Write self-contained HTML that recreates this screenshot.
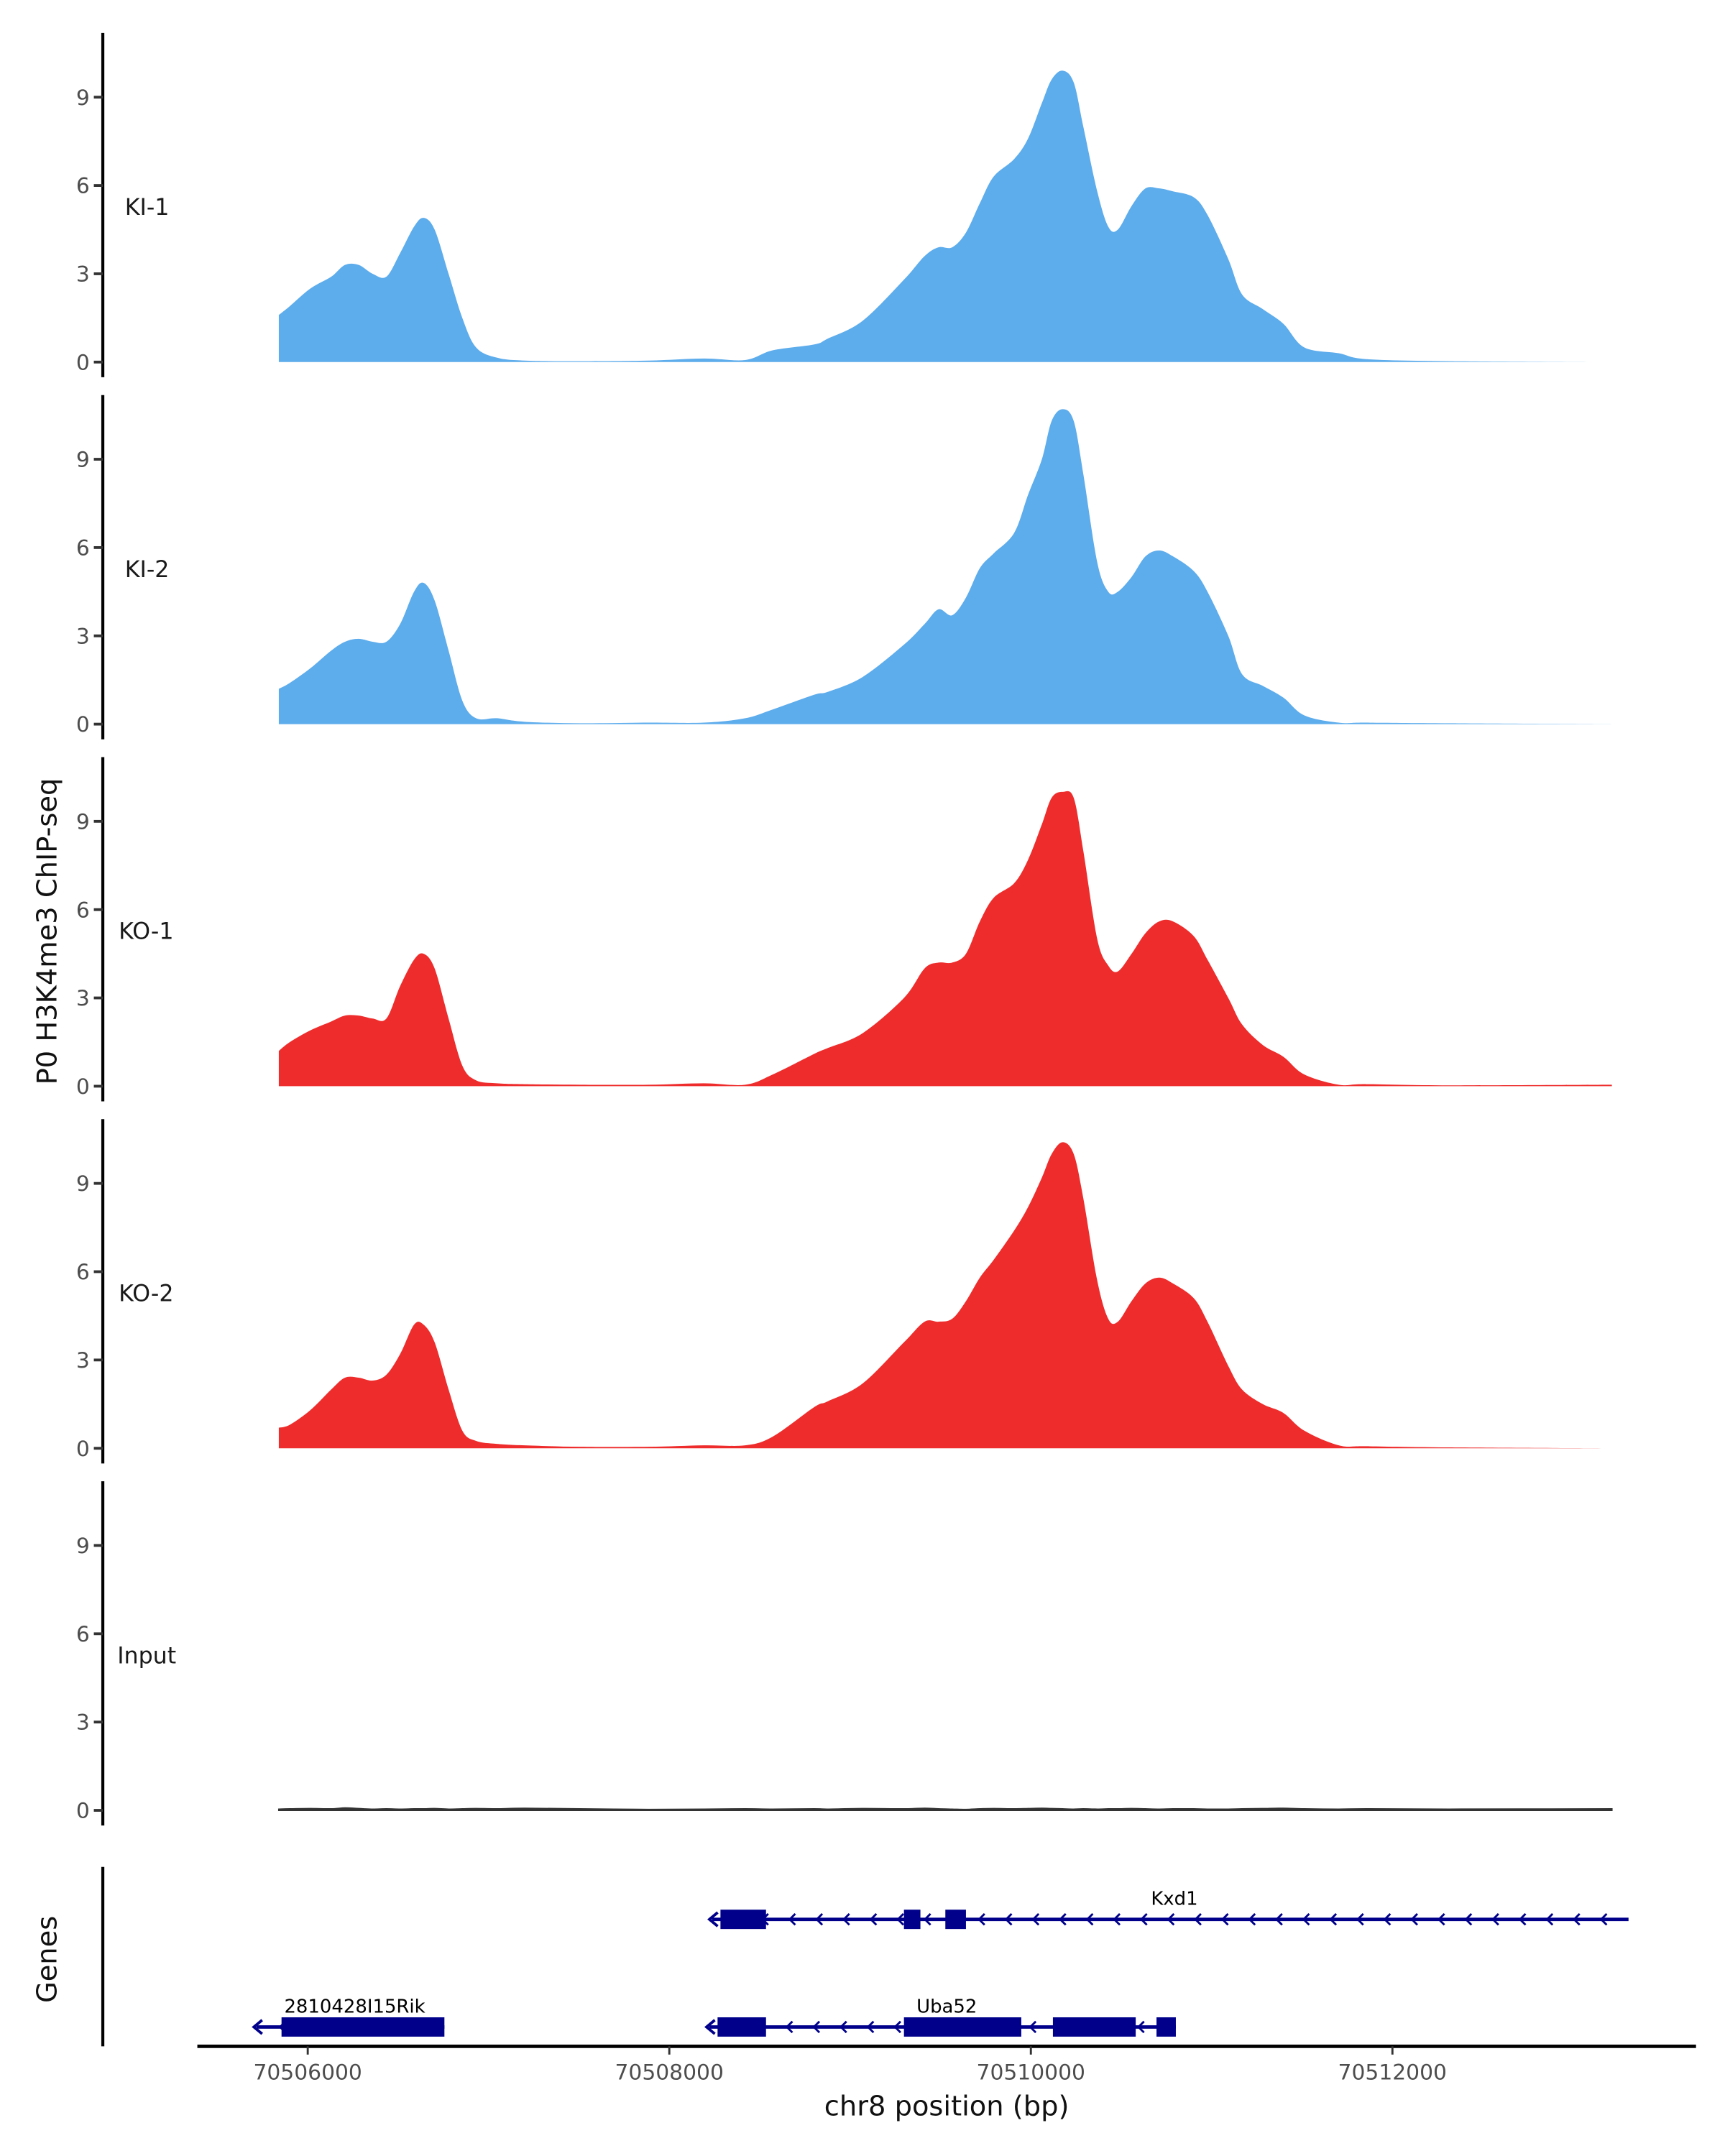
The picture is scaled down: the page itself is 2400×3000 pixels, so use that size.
<!DOCTYPE html>
<html><head><meta charset="utf-8">
<style>
html,body{margin:0;padding:0;background:#fff;}
svg{display:block;font-family:"DejaVu Sans","Liberation Sans",sans-serif;}
</style></head>
<body>
<svg id="chart" width="2400" height="3000" viewBox="0 0 1250 1562.5" xmlns="http://www.w3.org/2000/svg">
<rect width="1250" height="1562.5" fill="#fff"/>
<g id="panels"></g>
<g id="genes"></g>
<g id="xaxis"></g>
<text x="0" y="0" transform="translate(41,675) rotate(-90)" text-anchor="middle" font-size="20" fill="#111">P0 H3K4me3 ChIP-seq</text>
<text x="0" y="0" transform="translate(41,1420) rotate(-90)" text-anchor="middle" font-size="20" fill="#111">Genes</text>
<text x="686" y="1533" text-anchor="middle" font-size="20" fill="#111">chr8 position (bp)</text>
</svg>
<script>
const positions=[70505840,70505901,70506015,70506130,70506206,70506282,70506359,70506435,70506511,70506588,70506641,70506702,70506779,70506855,70506931,70507046,70507199,70507504,70507886,70508191,70508420,70508573,70508802,70508878,70509069,70509298,70509412,70509489,70509565,70509641,70509718,70509794,70509908,70509985,70510061,70510115,70510176,70510237,70510290,70510367,70510428,70510481,70510557,70510634,70510710,70510786,70510901,70510977,70511092,70511168,70511283,70511397,70511512,70511703,70511855,70512313,70513214];
const ki1=[1.6,1.9,2.5,2.9,3.3,3.3,3.0,2.9,3.7,4.6,4.9,4.5,3.0,1.5,0.5,0.15,0.05,0.03,0.05,0.12,0.07,0.4,0.6,0.8,1.4,2.8,3.6,3.9,3.9,4.4,5.4,6.3,6.9,7.6,8.8,9.6,9.9,9.5,8.0,5.8,4.6,4.5,5.3,5.9,5.9,5.8,5.6,5.0,3.5,2.3,1.8,1.3,0.5,0.3,0.1,0.03,0];
const ki2=[1.2,1.4,1.9,2.5,2.8,2.9,2.8,2.8,3.4,4.5,4.8,4.2,2.5,0.8,0.2,0.2,0.08,0.03,0.05,0.05,0.2,0.5,1.0,1.1,1.6,2.7,3.4,3.9,3.7,4.3,5.3,5.8,6.5,7.8,9.0,10.3,10.7,10.3,8.5,5.5,4.5,4.5,5.0,5.7,5.9,5.7,5.2,4.5,3.0,1.7,1.3,0.9,0.3,0.05,0.05,0.03,0];
const ko1=[1.2,1.5,1.9,2.2,2.4,2.4,2.3,2.3,3.4,4.3,4.5,4.0,2.3,0.7,0.2,0.1,0.07,0.05,0.05,0.1,0.05,0.4,1.1,1.3,1.8,3.0,4.0,4.2,4.2,4.5,5.6,6.4,6.9,7.7,8.9,9.8,10.0,9.8,8.0,5.0,4.1,3.9,4.5,5.2,5.6,5.6,5.1,4.3,3.0,2.1,1.4,1.0,0.4,0.05,0.07,0.03,0.05];
const ko2=[0.7,0.8,1.3,2.0,2.4,2.4,2.3,2.5,3.2,4.2,4.2,3.6,2.0,0.6,0.25,0.15,0.1,0.05,0.05,0.1,0.1,0.4,1.4,1.6,2.2,3.6,4.3,4.3,4.4,5.0,5.8,6.4,7.4,8.2,9.2,10.0,10.4,10.0,8.5,5.7,4.4,4.3,5.0,5.6,5.8,5.6,5.1,4.3,2.8,2.0,1.5,1.2,0.6,0.1,0.07,0.03,0];
const inputTrack=[0.04,0.05,0.06,0.05,0.08,0.06,0.04,0.05,0.04,0.05,0.05,0.06,0.04,0.05,0.06,0.05,0.07,0.05,0.03,0.04,0.05,0.04,0.05,0.04,0.06,0.05,0.07,0.05,0.04,0.03,0.05,0.06,0.05,0.06,0.07,0.06,0.05,0.04,0.05,0.04,0.05,0.05,0.06,0.05,0.04,0.05,0.05,0.04,0.04,0.05,0.06,0.07,0.05,0.04,0.05,0.04,0.05];
const trackNames=["KI-1","KI-2","KO-1","KO-2","Input"];
const trackColors=["#5DACEC","#5DACEC","#EE2C2C","#EE2C2C","#333333"];
const yTicks=[0,3,6,9];
const xTicks=[70506000,70508000,70510000,70512000];
const genes=[
 {name:"Kxd1",row:0,start:70508283,end:70513306,exons:[[70508283,70508535],[70509298,70509389],[70509527,70509641]],labelPos:70510794},
 {name:"Uba52",row:1,start:70508267,end:70510802,exons:[[70508267,70508535],[70509298,70509947],[70510122,70510580],[70510695,70510802]],labelPos:70509535},
 {name:"2810428I15Rik",row:1,start:70505763,end:70506756,exons:[[70505855,70506756]],labelPos:70506260}
];
const NS="http://www.w3.org/2000/svg";
function xs(bp){return 223+(bp-70506000)*262/2000;}
function mk(tag,attrs,parent){const e=document.createElementNS(NS,tag);for(const k in attrs)e.setAttribute(k,attrs[k]);parent.appendChild(e);return e;}
function smoothPath(pts){
  let d='';
  for(let i=0;i<pts.length-1;i++){
    const p0=pts[Math.max(0,i-1)],p1=pts[i],p2=pts[i+1],p3=pts[Math.min(pts.length-1,i+2)];
    const c1x=p1[0]+(p2[0]-p0[0])/6,c1y=p1[1]+(p2[1]-p0[1])/6;
    const c2x=p2[0]-(p3[0]-p1[0])/6,c2y=p2[1]-(p3[1]-p1[1])/6;
    d+=` C${c1x.toFixed(2)},${c1y.toFixed(2)} ${c2x.toFixed(2)},${c2y.toFixed(2)} ${p2[0].toFixed(2)},${p2[1].toFixed(2)}`;
  }
  return d;
}
const series=[ki1,ki2,ko1,ko2,inputTrack];
const panels=document.getElementById('panels');
series.forEach((vals,i)=>{
  const base=262.4+262.4*i;
  const ys=v=>base-v*21.33;
  const g=mk('g',{},panels);
  
  
  const ax=mk('line',{x1:74.5,x2:74.5,y1:base-238.5,y2:base+11,stroke:'#000','stroke-width':2.2},g);
  
  
  yTicks.forEach(t=>{
    const tl=mk('line',{x1:68,x2:74.5,y1:ys(t),y2:ys(t),stroke:'#333','stroke-width':2},g);
    
    
    const tx=mk('text',{x:65,y:ys(t)+5.5,'text-anchor':'end','font-size':15.5,fill:'#4d4d4d'},g);
    tx.textContent=t;
    
    
  });
  const lb=mk('text',{x:i==4?85:(i>=2?86:90.5),y:ys(5.0),'font-size':16.5,fill:'#1a1a1a'},g);
  lb.textContent=trackNames[i];
  
  
  const pts=positions.map((p,j)=>[xs(p),ys(vals[j])]);
  let d='M'+xs(positions[0]).toFixed(2)+','+base+' L'+pts[0][0].toFixed(2)+','+pts[0][1].toFixed(2);
  d+=smoothPath(pts);
  d+=' L'+xs(positions[positions.length-1]).toFixed(2)+','+base+' Z';
  const area=mk('path',{d:d,fill:trackColors[i],stroke:i==4?'#333':'none','stroke-width':i==4?1:0},g);
  
  
});
const gg=document.getElementById('genes');
const gax=mk('line',{x1:74.5,x2:74.5,y1:1353,y2:1483,stroke:'#000','stroke-width':2.2},gg);


const navy="#00008B";
genes.forEach(gn=>{
  const y=gn.row==0?1391:1469;
  const g=mk('g',{},gg);
  
  
  mk('line',{x1:xs(gn.start)-6,x2:xs(gn.end),y1:y,y2:y,stroke:navy,'stroke-width':2.5},g);
  for(let x=xs(gn.start)+12;x<xs(gn.end)-4;x+=19.6){
    mk('path',{d:`M${x+3},${y-4} L${x-1},${y} L${x+3},${y+4}`,fill:'none',stroke:navy,'stroke-width':1.5},g);
  }
  mk('path',{d:`M${xs(gn.start)-2},${y-5} L${xs(gn.start)-8},${y} L${xs(gn.start)-2},${y+5}`,fill:'none',stroke:navy,'stroke-width':2},g);
  gn.exons.forEach(ex=>{
    const r=mk('rect',{x:xs(ex[0]),y:y-7,width:xs(ex[1])-xs(ex[0]),height:14,fill:navy},g);
    
    
  });
  const t=mk('text',{x:xs(gn.labelPos),y:y-10.5,'text-anchor':'middle','font-size':13.5,fill:'#000'},g);
  t.textContent=gn.name;
  
  
});
const xa=document.getElementById('xaxis');
const xl=mk('line',{x1:143,x2:1229,y1:1483,y2:1483,stroke:'#000','stroke-width':2.5},xa);


xTicks.forEach(t=>{
  const tl=mk('line',{x1:xs(t),x2:xs(t),y1:1483,y2:1489,stroke:'#333','stroke-width':1.5},xa);
  
  
  const tx=mk('text',{x:xs(t),y:1507,'text-anchor':'middle','font-size':15.5,fill:'#4d4d4d'},xa);
  tx.textContent=t;
  
  
});
</script>
</body></html>
